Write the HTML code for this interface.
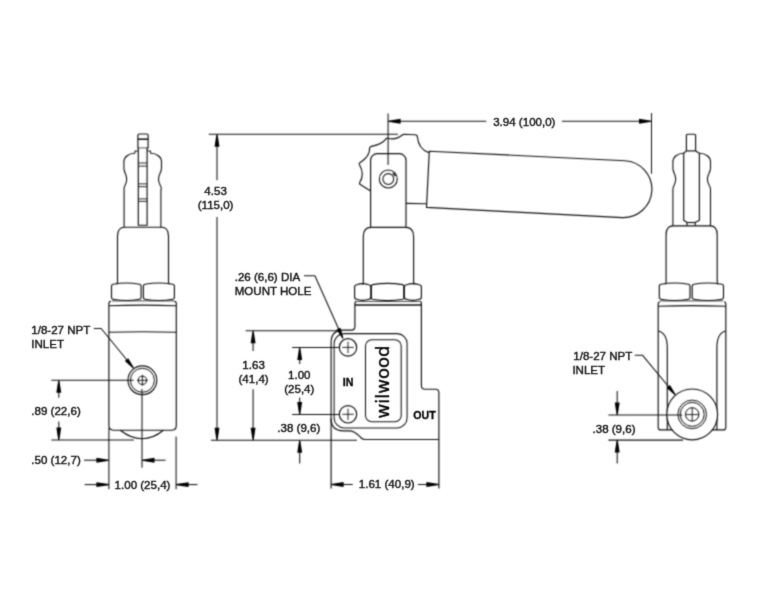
<!DOCTYPE html>
<html lang="en">
<head>
<meta charset="utf-8">
<title>Wilwood proportioning valve dimensions</title>
<style>
html,body{margin:0;padding:0;background:#fff;}
body{width:757px;height:606px;overflow:hidden;}
svg{display:block;}
.g{fill:none;stroke:#101010;stroke-width:1.15;stroke-linecap:butt;stroke-linejoin:round;}
.ah{fill:#000;stroke:none;}
.t{font-family:"Liberation Sans",sans-serif;font-size:11.55px;fill:#111;stroke:#111;stroke-width:0.4px;}
.b{font-family:"Liberation Sans",sans-serif;font-size:10.6px;font-weight:bold;fill:#000;stroke:#000;stroke-width:0.3px;}
.logo{font-family:"DejaVu Sans","Liberation Sans",sans-serif;font-size:18px;fill:#000;stroke:#000;stroke-width:0.35px;}
</style>
</head>
<body>
<svg width="757" height="606" viewBox="0 0 757 606">
<defs><filter id="soft" x="0" y="0" width="757" height="606" filterUnits="userSpaceOnUse" color-interpolation-filters="sRGB"><feConvolveMatrix order="3" kernelMatrix="1 3 1 3 9 3 1 3 1" divisor="25" edgeMode="duplicate" preserveAlpha="false"/></filter>
<filter id="softt" x="0" y="0" width="757" height="606" filterUnits="userSpaceOnUse" color-interpolation-filters="sRGB"><feConvolveMatrix order="3" kernelMatrix="1 6 1 6 36 6 1 6 1" divisor="64" edgeMode="duplicate" preserveAlpha="false"/></filter></defs>
<g class="g" filter="url(#soft)">
<rect x="0" y="0" width="757" height="606" fill="#ffffff" stroke="none"/>
<!-- left view -->
<path d="M138.3,225.2 V148 H137.9 V135.2 Q137.9,134.0 139.1,134.0 H146.9 Q148.1,134.0 148.1,135.2 V148 H147.1 V225.2 Z"/>
<line x1="137.9" y1="139.2" x2="148.1" y2="139.2" stroke-width="1.5"/>
<line x1="138.3" y1="147.9" x2="147.1" y2="147.9" stroke-width="0.7"/>
<line x1="138.3" y1="163.0" x2="147.1" y2="163.0" stroke-width="0.9"/>
<line x1="138.3" y1="166.1" x2="147.1" y2="166.1" stroke-width="0.9"/>
<line x1="138.3" y1="183.9" x2="147.1" y2="183.9" stroke-width="0.9"/>
<line x1="138.3" y1="186.7" x2="147.1" y2="186.7" stroke-width="0.9"/>
<line x1="138.3" y1="198.9" x2="147.1" y2="198.9" stroke-width="0.9"/>
<line x1="138.3" y1="201.4" x2="147.1" y2="201.4" stroke-width="0.9"/>
<path d="M134.9,153.3 A11.00,8.3 0 0 0 123.9,161.6 V168.2 C123.9,172.5 126.7,174 126.7,179 C126.7,184 124.7,185.5 124.2,187.6 Q123.9,188.6 124.1,190.3 V227.2" stroke-width="1.1"/>
<path d="M150.6,153.3 A10.90,8.3 0 0 1 161.5,161.6 V168.2 C161.5,172.5 158.5,174 158.5,179 C158.5,184 160.7,185.5 161.2,187.6 Q161.5,188.6 160.9,190.3 V227.2" stroke-width="1.1"/>
<path d="M138.3,151.0 H134.9 V153.3" stroke-width="1.0"/>
<path d="M147.1,151.0 H150.6 V153.3" stroke-width="1.0"/>
<path d="M116.6,284.3 Q117.5,283.6 117.5,281.8 V236.2 C117.5,230.6 119.6,227.2 124.6,227.2 H161.4 C166.4,227.2 168.5,230.6 168.5,236.2 V281.8 Q168.5,283.6 169.4,284.3"/>
<path d="M111.5,286.0 Q111.5,284.5 113.1,284.2 Q126.3,281.8 139.5,284.2 Q141.1,284.5 141.1,286.0 V297.5 Q141.1,299.0 139.5,299.3 Q126.3,301.7 113.1,299.3 Q111.5,299.0 111.5,297.5 Z"/>
<path d="M143.4,286.0 Q143.4,284.5 145.0,284.2 Q158.9,281.8 172.8,284.2 Q174.4,284.5 174.4,286.0 V297.5 Q174.4,299.0 172.8,299.3 Q158.9,301.7 145.0,299.3 Q143.4,299.0 143.4,297.5 Z"/>
<line x1="112" y1="300.9" x2="174" y2="300.9" stroke-width="0.8"/>
<path d="M111.0,301.3 Q108.9,301.5 108.9,303.6 V425.6 Q108.9,430.2 113.5,430.2 H171.8 Q176.3,430.2 176.3,425.6 V303.6 Q176.3,301.5 174.2,301.3"/>
<path d="M108.9,305.7 Q142.6,304.5 176.3,305.7"/>
<path d="M108.9,332.3 Q142.6,331.2 176.3,332.3"/>
<path d="M120.2,430.2 C127,435.5 133,438.7 142.0,438.7 C151,438.7 157,435.5 163.4,430.2"/>
<circle cx="142.4" cy="380.3" r="14.4"/>
<circle cx="142.4" cy="380.3" r="12.0" stroke-width="1.0"/>
<circle cx="142.4" cy="380.3" r="4.1" stroke-width="1.0"/>
<line x1="136.9" y1="380.3" x2="147.9" y2="380.3" stroke-width="0.9"/>
<line x1="142.4" y1="374.8" x2="142.4" y2="385.8" stroke-width="0.9"/>
<line x1="51.3" y1="380.2" x2="133.6" y2="380.2" stroke-width="1.05"/>
<line x1="51.3" y1="440.0" x2="134" y2="440.0" stroke-width="1.05"/>
<line x1="58.8" y1="384" x2="58.8" y2="397.7" stroke-width="1.05"/>
<polygon class="ah" points="59.35,380.20 61.25,392.70 56.35,392.70 58.25,380.20"/>
<line x1="58.8" y1="421.5" x2="58.8" y2="436" stroke-width="1.05"/>
<polygon class="ah" points="58.25,440.00 56.35,427.50 61.25,427.50 59.35,440.00"/>
<line x1="142.0" y1="389" x2="142.0" y2="467.7" stroke-width="1.05"/>
<line x1="108.9" y1="428" x2="108.9" y2="489.3" stroke-width="1.05"/>
<line x1="176.1" y1="436.6" x2="176.1" y2="489.3" stroke-width="1.05"/>
<line x1="84" y1="460.2" x2="100" y2="460.2" stroke-width="1.05"/>
<polygon class="ah" points="108.90,460.75 96.40,462.65 96.40,457.75 108.90,459.65"/>
<line x1="150" y1="460.2" x2="165.6" y2="460.2" stroke-width="1.05"/>
<polygon class="ah" points="142.00,459.65 154.50,457.75 154.50,462.65 142.00,460.75"/>
<line x1="84.6" y1="484.6" x2="100" y2="484.6" stroke-width="1.05"/>
<polygon class="ah" points="108.90,485.15 96.40,487.05 96.40,482.15 108.90,484.05"/>
<line x1="185" y1="484.6" x2="197.5" y2="484.6" stroke-width="1.05"/>
<polygon class="ah" points="176.10,484.05 188.60,482.15 188.60,487.05 176.10,485.15"/>
<path d="M93.8,328.5 H101.2 L131,365" stroke-width="1.05"/>
<polygon class="ah" points="133.07,368.45 124.84,360.97 128.25,358.19 133.93,367.75"/>
<!-- middle view -->
<line x1="208.8" y1="134.3" x2="397.9" y2="134.3" stroke-width="1.05"/>
<line x1="210.9" y1="440.2" x2="356.9" y2="440.2" stroke-width="1.05"/>
<line x1="217" y1="138" x2="217" y2="180.3" stroke-width="1.05"/>
<polygon class="ah" points="217.55,134.30 219.45,146.80 214.55,146.80 216.45,134.30"/>
<line x1="217" y1="216.9" x2="217" y2="436" stroke-width="1.05"/>
<polygon class="ah" points="216.45,440.20 214.55,427.70 219.45,427.70 217.55,440.20"/>
<line x1="388.1" y1="113.5" x2="388.1" y2="165.1" stroke-width="1.05"/>
<line x1="651.5" y1="113" x2="651.5" y2="173.8" stroke-width="1.05"/>
<line x1="395" y1="121.3" x2="486.3" y2="121.3" stroke-width="1.05"/>
<polygon class="ah" points="388.10,120.75 400.60,118.85 400.60,123.75 388.10,121.85"/>
<line x1="561.9" y1="121.3" x2="645" y2="121.3" stroke-width="1.05"/>
<polygon class="ah" points="651.50,121.85 639.00,123.75 639.00,118.85 651.50,120.75"/>
<path d="M370.6,190.9 L360.3,184.6 Q359.0,183.8 359.6,182.7 Q365.1,174.6 359.5,164.8 Q358.8,163.6 359.6,162.9 Q370.3,156 369.6,148.2 Q369.6,146.9 371.4,146.4 Q382.1,144.3 386.2,138.6 Q386.9,137.6 388.1,138.3 Q396,140.3 402.6,134.7 Q403.1,134.3 404,134.3 L415,134.7 Q417.4,134.8 417.4,137 Q418.6,149.2 428.8,152.6"/>
<path d="M370.6,227.3 V160.2 A6.6,6.6 0 0 1 377.2,153.6 H399.4 A6.6,6.6 0 0 1 406,160.2 V227.3"/>
<circle cx="388.3" cy="179.0" r="9.0" stroke-width="1.05"/>
<circle cx="388.3" cy="179.0" r="5.4" stroke-width="1.05"/>
<line x1="393.0" y1="173.0" x2="395.4" y2="175.9" stroke-width="1.5"/>
<path d="M429.3,151.2 L624.8,160.7 A28,28 0 0 1 622.0,217.65 L426.5,207.4 Z"/>
<line x1="406" y1="203.4" x2="426.6" y2="203.7"/>
<path d="M362.4,284.6 Q363.3,284 363.3,282.3 V236.5 C363.3,230.6 365.8,227.3 371.0,227.3 H405.7 C410.9,227.3 413.6,230.6 413.6,236.5 V282.3 Q413.6,284 414.5,284.6"/>
<path d="M354.6,287.2 Q354.6,285.1 356.8,284.8 Q362.70000000000005,282.6 368.6,284.8 Q370.8,285.1 370.8,287.2 V296.90000000000003 Q370.8,299.0 368.6,299.3 Q362.70000000000005,301.5 356.8,299.3 Q354.6,299.0 354.6,296.90000000000003 Z"/>
<path d="M371.4,285.99999999999994 Q371.4,284.9 372.59999999999997,284.59999999999997 Q387.6,282.0 402.6,284.59999999999997 Q403.8,284.9 403.8,285.99999999999994 V297.90000000000003 Q403.8,299.0 402.6,299.3 Q387.6,301.9 372.59999999999997,299.3 Q371.4,299.0 371.4,297.90000000000003 Z"/>
<path d="M404.4,287.2 Q404.4,285.1 406.59999999999997,284.8 Q412.9,282.6 419.2,284.8 Q421.4,285.1 421.4,287.2 V296.90000000000003 Q421.4,299.0 419.2,299.3 Q412.9,301.5 406.59999999999997,299.3 Q404.4,299.0 404.4,296.90000000000003 Z"/>
<path d="M356.5,301.4 H419.6" stroke-width="0.8"/>
<path d="M354.9,304.9 H421.4" stroke-width="1.5"/>
<path d="M356.5,301.4 Q354.9,301.6 354.9,303.2 V326.5 Q354.9,330.1 351.3,330.1 H343.4 Q331.1,330.1 331.1,342.4 V488.5"/>
<path d="M331.1,418.5 Q331.1,430.8 343.4,430.8 H349 C356,430.8 358.5,435.6 361.2,438.0 Q362.8,439.5 365,439.5 H438.9"/>
<path d="M419.8,301.4 Q421.4,301.6 421.4,303.2 V385.4 Q421.4,389.2 425.2,389.2 H435.4 Q438.9,389.2 438.9,393.0 V488.5"/>
<rect x="334.1" y="333.6" width="73.0" height="94.3" rx="10" ry="10" stroke-width="1.05"/>
<rect x="365.5" y="339.7" width="35.7" height="82.1" rx="6.3" ry="6.3" stroke-width="1.05"/>
<circle cx="348.0" cy="347.4" r="8.7"/>
<line x1="342.3" y1="347.4" x2="353.7" y2="347.4" stroke-width="0.9"/>
<line x1="348.0" y1="341.7" x2="348.0" y2="353.09999999999997" stroke-width="0.9"/>
<circle cx="348.0" cy="414.3" r="8.7"/>
<line x1="342.3" y1="414.3" x2="353.7" y2="414.3" stroke-width="0.9"/>
<line x1="348.0" y1="408.6" x2="348.0" y2="420.0" stroke-width="0.9"/>
<line x1="245.6" y1="330.8" x2="338.7" y2="330.8" stroke-width="1.05"/>
<line x1="253.1" y1="335" x2="253.1" y2="351" stroke-width="1.05"/>
<polygon class="ah" points="253.65,330.80 255.55,343.30 250.65,343.30 252.55,330.80"/>
<line x1="253.1" y1="389.3" x2="253.1" y2="436" stroke-width="1.05"/>
<polygon class="ah" points="252.55,440.20 250.65,427.70 255.55,427.70 253.65,440.20"/>
<line x1="292.1" y1="347.5" x2="339.3" y2="347.5" stroke-width="1.05"/>
<line x1="292.1" y1="414.5" x2="339.3" y2="414.5" stroke-width="1.05"/>
<line x1="299.7" y1="352" x2="299.7" y2="364" stroke-width="1.05"/>
<polygon class="ah" points="300.25,347.50 302.15,360.00 297.25,360.00 299.15,347.50"/>
<line x1="299.7" y1="397.6" x2="299.7" y2="410" stroke-width="1.05"/>
<polygon class="ah" points="299.15,414.50 297.25,402.00 302.15,402.00 300.25,414.50"/>
<line x1="299.7" y1="445" x2="299.7" y2="463.4" stroke-width="1.05"/>
<polygon class="ah" points="300.25,440.20 302.15,452.70 297.25,452.70 299.15,440.20"/>
<line x1="338" y1="484.5" x2="352.8" y2="484.5" stroke-width="1.05"/>
<polygon class="ah" points="331.10,483.95 343.60,482.05 343.60,486.95 331.10,485.05"/>
<line x1="417.9" y1="484.5" x2="432" y2="484.5" stroke-width="1.05"/>
<polygon class="ah" points="438.90,485.05 426.40,486.95 426.40,482.05 438.90,483.95"/>
<path d="M304,275.8 H314.9 L340,332" stroke-width="1.05"/>
<polygon class="ah" points="342.50,338.82 336.50,329.46 340.52,327.66 343.50,338.38"/>
<!-- right view -->
<path d="M686.4,150.9 V135.3 Q686.4,134.2 687.5,134.2 H694.5 Q695.6,134.2 695.6,135.3 V150.9"/>
<path d="M686.4,150.9 L683.7,153.2 V220.3 L687.0,222.5 V225.9"/>
<path d="M695.6,150.9 L699.4,153.2 V220.3 L695.2,222.5 V225.9"/>
<line x1="686.4" y1="150.9" x2="695.6" y2="150.9"/>
<line x1="687.0" y1="222.5" x2="695.2" y2="222.5"/>
<path d="M683.7,153.3 A10.80,8.3 0 0 0 672.9,161.6 V168.2 C672.9,172.5 675.7,174 675.7,179 C675.7,184 673.6999999999999,185.5 673.1999999999999,187.6 Q672.9,188.6 672.9,190.3 V225.9" stroke-width="1.1"/>
<path d="M699.4,153.3 A11.10,8.3 0 0 1 710.5,161.6 V168.2 C710.5,172.5 707.4,174 707.4,179 C707.4,184 709.7,185.5 710.2,187.6 Q710.5,188.6 710.5,190.3 V225.9" stroke-width="1.1"/>
<path d="M665.2,284.3 Q666.1,283.6 666.1,281.8 V234.9 C666.1,229.3 668.2,225.9 673.2,225.9 H710.1 C715.1,225.9 717.2,229.3 717.2,234.9 V281.8 Q717.2,283.6 718.1,284.3"/>
<path d="M659.3,286.0 Q659.3,284.5 660.9,284.2 Q674.65,281.8 688.4,284.2 Q690.0,284.5 690.0,286.0 V297.5 Q690.0,299.0 688.4,299.3 Q674.65,301.7 660.9,299.3 Q659.3,299.0 659.3,297.5 Z"/>
<path d="M692.2,286.0 Q692.2,284.5 693.8000000000001,284.2 Q707.85,281.8 721.9,284.2 Q723.5,284.5 723.5,286.0 V297.5 Q723.5,299.0 721.9,299.3 Q707.85,301.7 693.8000000000001,299.3 Q692.2,299.0 692.2,297.5 Z"/>
<line x1="660" y1="300.9" x2="723" y2="300.9" stroke-width="0.8"/>
<path d="M660,301.8 Q658.2,302 658.2,303.8 V427.4 Q658.2,429.9 660.7,429.9 H723.3 Q725.8,429.9 725.8,427.4 V303.8 Q725.8,302 724,301.8"/>
<path d="M658.2,306.3 Q692,305.0 725.8,306.3"/>
<path d="M658.4,331 Q667.3,333 667.3,348 V429.9"/>
<path d="M725.6,331 Q716.9,333 716.9,348 V429.9"/>
<circle cx="692.2" cy="414.4" r="25.4" fill="#fff"/>
<circle cx="692.2" cy="414.4" r="14.3" stroke-width="1.0"/>
<circle cx="692.2" cy="414.4" r="12.0" stroke-width="1.0"/>
<circle cx="692.2" cy="414.4" r="6.7" stroke-width="1.0"/>
<line x1="685.5" y1="414.6" x2="698.9" y2="414.6" stroke-width="0.9"/>
<line x1="692.2" y1="407.7" x2="692.2" y2="421.1" stroke-width="0.9"/>
<path d="M634.7,355.2 H642.4 L673,392" stroke-width="1.05"/>
<polygon class="ah" points="674.88,395.15 666.58,387.74 669.96,384.93 675.72,394.45"/>
<line x1="608.4" y1="415.0" x2="682.3" y2="415.0" stroke-width="1.05"/>
<line x1="608.4" y1="440.1" x2="683.1" y2="440.1" stroke-width="1.05"/>
<line x1="617.2" y1="391" x2="617.2" y2="411" stroke-width="1.05"/>
<polygon class="ah" points="616.65,415.00 614.75,402.50 619.65,402.50 617.75,415.00"/>
<line x1="617.2" y1="445" x2="617.2" y2="463.6" stroke-width="1.05"/>
<polygon class="ah" points="617.75,440.10 619.65,452.60 614.75,452.60 616.65,440.10"/>
</g>
<g filter="url(#softt)">
<text class="t" x="31.3" y="414.6" text-anchor="start">.89 (22,6)</text>
<text class="t" x="31.3" y="463.9" text-anchor="start">.50 (12,7)</text>
<text class="t" x="114.6" y="488.8" text-anchor="start">1.00 (25,4)</text>
<text class="t" x="31.3" y="334.0" text-anchor="start">1/8-27 NPT</text>
<text class="t" x="31.3" y="347.8" text-anchor="start">INLET</text>
<text class="t" x="215.6" y="194.5" text-anchor="middle">4.53</text>
<text class="t" x="215.6" y="209" text-anchor="middle">(115,0)</text>
<text class="t" x="493.2" y="125.8" text-anchor="start">3.94 (100,0)</text>
<text class="b" x="342.8" y="386.1" text-anchor="start">IN</text>
<text class="b" x="413.3" y="418.7" text-anchor="start">OUT</text>
<text class="logo" transform="translate(389.3 418.4) rotate(-90)" x="0" y="0">wilwood</text>
<text class="t" x="253.6" y="368.9" text-anchor="middle">1.63</text>
<text class="t" x="253.6" y="382.8" text-anchor="middle">(41,4)</text>
<text class="t" x="299.3" y="378.8" text-anchor="middle">1.00</text>
<text class="t" x="299.3" y="392.7" text-anchor="middle">(25,4)</text>
<text class="t" x="277.3" y="432.3" text-anchor="start">.38 (9,6)</text>
<text class="t" x="358.8" y="487.8" text-anchor="start">1.61 (40,9)</text>
<text class="t" x="234.7" y="281.3" text-anchor="start">.26 (6,6) DIA</text>
<text class="t" x="234.7" y="294.6" text-anchor="start">MOUNT HOLE</text>
<text class="t" x="573.3" y="359.7" text-anchor="start">1/8-27 NPT</text>
<text class="t" x="572.4" y="374.2" text-anchor="start">INLET</text>
<text class="t" x="592.5" y="432.6" text-anchor="start">.38 (9,6)</text>
</g>
</svg>
</body>
</html>
